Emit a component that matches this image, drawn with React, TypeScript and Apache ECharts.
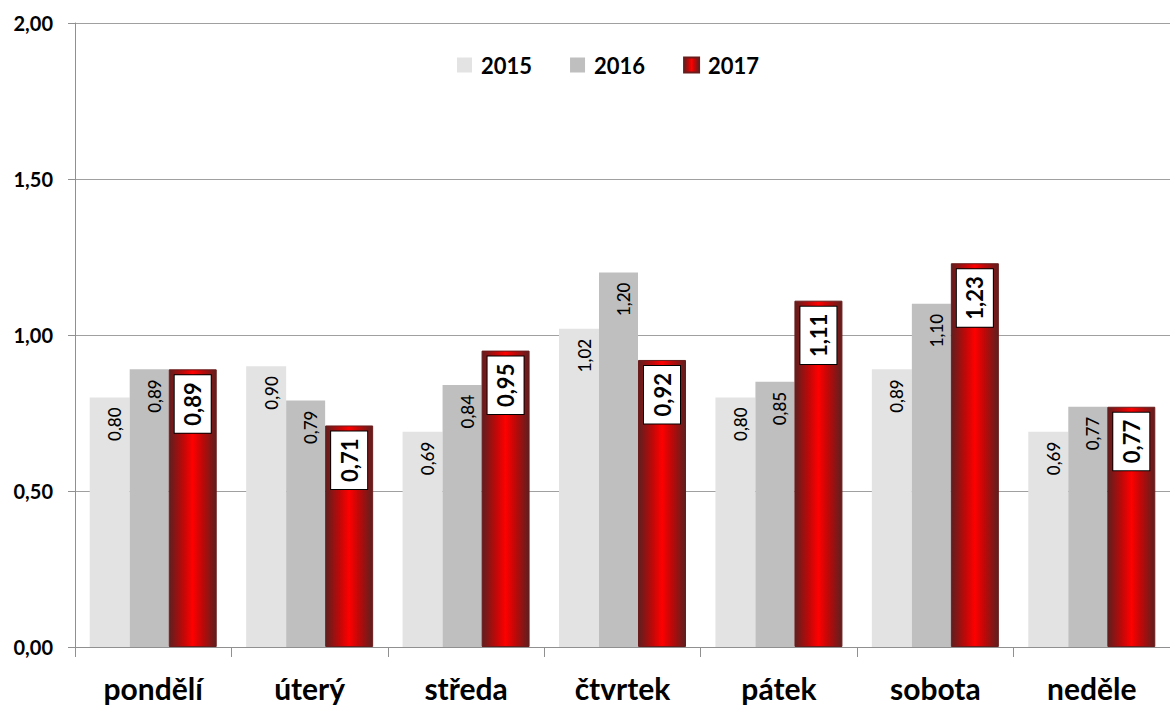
import React, { useEffect, useRef } from "react";
import * as echarts from "echarts";

const categories = ["pondělí", "úterý", "středa", "čtvrtek", "pátek", "sobota", "neděle"];
const values2015 = [0.8, 0.9, 0.69, 1.02, 0.8, 0.89, 0.69];
const values2016 = [0.89, 0.79, 0.84, 1.2, 0.85, 1.1, 0.77];
const values2017 = [0.89, 0.71, 0.95, 0.92, 1.11, 1.23, 0.77];
const seriesNames = ["2015", "2016", "2017"];

const FONT = "Lato";
const fmt = (v: number) => v.toFixed(2).replace(".", ",");

export default function App() {
  const ref = useRef<HTMLDivElement>(null);
  useEffect(() => {
    if (!ref.current) return;
    const chart = echarts.init(ref.current, undefined, { renderer: "svg" });
    const redGrad = new echarts.graphic.LinearGradient(0, 0, 1, 0, [
      { offset: 0, color: "#5e1f1f" },
      { offset: 0.3, color: "#c00808" },
      { offset: 0.5, color: "#ff0000" },
      { offset: 0.7, color: "#c00808" },
      { offset: 1, color: "#5e1f1f" },
    ]);
    const smallLabel = {
      show: true,
      position: "insideTop",
      rotate: 90,
      align: "right",
      verticalAlign: "middle",
      distance: 10,
      offset: [0, 5],
      fontFamily: FONT,
      fontWeight: 500,
      fontSize: 17,
      color: "#000",
      formatter: (p: any) => fmt(p.value),
    };
    chart.setOption({
      animation: false,
      textStyle: { fontFamily: FONT },
      legend: {
        top: 49,
        left: 452,
        icon: "rect",
        itemWidth: 15,
        itemHeight: 15,
        itemGap: 38,
        textStyle: {
          fontFamily: FONT,
          fontWeight: "bold",
          fontSize: 22,
          color: "#000",
          padding: [0, 0, 0, 4],
        },
        data: seriesNames,
      },
      grid: { left: 75, right: -6, top: 23, bottom: 59, containLabel: false },
      xAxis: {
        type: "category",
        data: categories,
        axisLine: { lineStyle: { color: "#909090", width: 1 } },
        axisTick: { show: true, length: 10, lineStyle: { color: "#909090" } },
        axisLabel: { fontFamily: FONT, fontWeight: "bold", fontSize: 30, color: "#000", margin: 26 },
      },
      yAxis: {
        type: "value",
        min: 0,
        max: 2,
        interval: 0.5,
        axisLine: { show: true, lineStyle: { color: "#909090" } },
        axisTick: { show: true, length: 7, lineStyle: { color: "#909090" } },
        splitLine: { lineStyle: { color: "#a0a0a0", width: 1 } },
        axisLabel: {
          fontFamily: FONT,
          fontWeight: "bold",
          fontSize: 20,
          color: "#000",
          margin: 22,
          formatter: (v: number) => fmt(v),
        },
      },
      series: [
        {
          name: seriesNames[0],
          type: "bar",
          data: values2015,
          barWidth: 40,
          barGap: "0%",
          itemStyle: { color: "#e3e3e3" },
          label: smallLabel,
        },
        {
          name: seriesNames[1],
          type: "bar",
          data: values2016,
          barWidth: 39,
          barGap: "0%",
          itemStyle: { color: "#bfbfbf" },
          label: smallLabel,
        },
        {
          name: seriesNames[2],
          type: "bar",
          data: values2017,
          barWidth: 48,
          barGap: "0%",
          itemStyle: { color: redGrad, borderColor: "#6a1c1c", borderWidth: 1 },
          label: {
            show: true,
            position: "insideTop",
            rotate: 90,
            align: "right",
            verticalAlign: "middle",
            distance: 6,
            fontFamily: FONT,
            fontWeight: "bold",
            fontSize: 22,
            color: "#000",
            backgroundColor: "#fff",
            borderColor: "#000",
            borderWidth: 1,
            padding: [7, 7, 7, 7],
            formatter: (p: any) => fmt(p.value),
          },
        },
      ],
    });
    return () => chart.dispose();
  }, []);
  return (
    <div
      ref={ref}
      style={{ position: "fixed", left: 0, top: 0, width: 1170, height: 706, background: "#fff" }}
    />
  );
}
